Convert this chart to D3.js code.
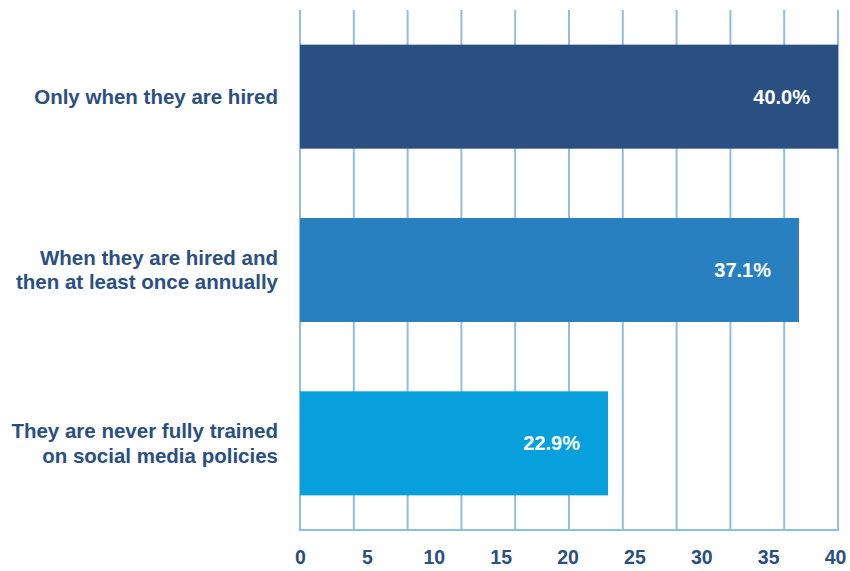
<!DOCTYPE html>
<html>
<head>
<meta charset="utf-8">
<script src="https://cdn.jsdelivr.net/npm/d3@7"></script>
<style>
  body { margin: 0; background: #fff; }
  svg text { font-family: "Liberation Sans", Arial, sans-serif; font-weight: bold; }
</style>
</head>
<body>
<div class="chart"></div>
<script>
var categories = [
  ["Only when they are hired"],
  ["When they are hired and", "then at least once annually"],
  ["They are never fully trained", "on social media policies"]
];
var values = [40.0, 37.1, 22.9];
var valueLabels = ["40.0%", "37.1%", "22.9%"];
var gridTicks = [0, 4, 8, 12, 16, 20, 24, 28, 32, 36, 40];
var axisTicks = [0, 5, 10, 15, 20, 25, 30, 35, 40];
var barColors = ["#2a4f82", "#2980c0", "#08a0dc"];

var width = 850, height = 571;
var plotLeft = 300, plotRight = 838, plotTop = 10, plotBottom = 530;
var textColor = "#2a4f82", gridColor = "#8fbfdf";

var svg = d3.select(".chart").append("svg")
  .attr("width", width)
  .attr("height", height);

var x = d3.scaleLinear().domain([0, 40]).range([plotLeft, plotRight]);
// labels in the original sit on a different spacing than the grid
var xLabel = d3.scaleLinear().domain([0, 40]).range([plotLeft, 835]);

var y = d3.scaleBand()
  .domain(d3.range(values.length))
  .range([plotTop, plotBottom])
  .paddingInner(0.4)
  .paddingOuter(0.2);

// grid
svg.append("g")
  .selectAll("line")
  .data(gridTicks)
  .enter().append("line")
  .attr("x1", function (d) { return x(d); })
  .attr("x2", function (d) { return x(d); })
  .attr("y1", plotTop)
  .attr("y2", plotBottom)
  .attr("stroke", gridColor)
  .attr("stroke-width", 2);

svg.append("line")
  .attr("x1", plotLeft - 1).attr("x2", plotRight + 1)
  .attr("y1", plotBottom).attr("y2", plotBottom)
  .attr("stroke", gridColor)
  .attr("stroke-width", 2);

// x labels
var xAxis = d3.axisBottom(xLabel)
  .tickValues(axisTicks)
  .tickSize(0)
  .tickPadding(0)
  .tickFormat(d3.format("d"));

var gx = svg.append("g")
  .attr("transform", "translate(0," + 550 + ")")
  .call(xAxis);
gx.select(".domain").remove();
gx.selectAll("text")
  .attr("fill", textColor)
  .style("font-size", "19.5px");

// bars
svg.selectAll(".bar")
  .data(values)
  .enter().append("rect")
  .attr("class", "bar")
  .attr("x", x(0))
  .attr("y", function (d, i) { return y(i); })
  .attr("width", function (d) { return x(d) - x(0); })
  .attr("height", y.bandwidth())
  .attr("fill", function (d, i) { return barColors[i]; });

// value labels
svg.selectAll(".val")
  .data(values)
  .enter().append("text")
  .attr("class", "val")
  .attr("x", function (d) { return x(d) - 28; })
  .attr("y", function (d, i) { return y(i) + y.bandwidth() / 2; })
  .attr("dy", "0.35em")
  .attr("text-anchor", "end")
  .attr("fill", "#fff")
  .style("font-size", "20px")
  .text(function (d, i) { return valueLabels[i]; });

// category labels
var cat = svg.selectAll(".cat")
  .data(categories)
  .enter().append("text")
  .attr("class", "cat")
  .attr("text-anchor", "end")
  .attr("fill", textColor)
  .style("font-size", "20.5px")
  .attr("transform", function (d, i) {
    return "translate(278," + (y(i) + y.bandwidth() / 2) + ")";
  });

cat.each(function (lines) {
  var t = d3.select(this);
  var n = lines.length;
  lines.forEach(function (s, k) {
    t.append("tspan")
      .attr("x", 0)
      .attr("y", (k - (n - 1) / 2) * 24.5)
      .attr("dy", "0.35em")
      .text(s);
  });
});
</script>
</body>
</html>
